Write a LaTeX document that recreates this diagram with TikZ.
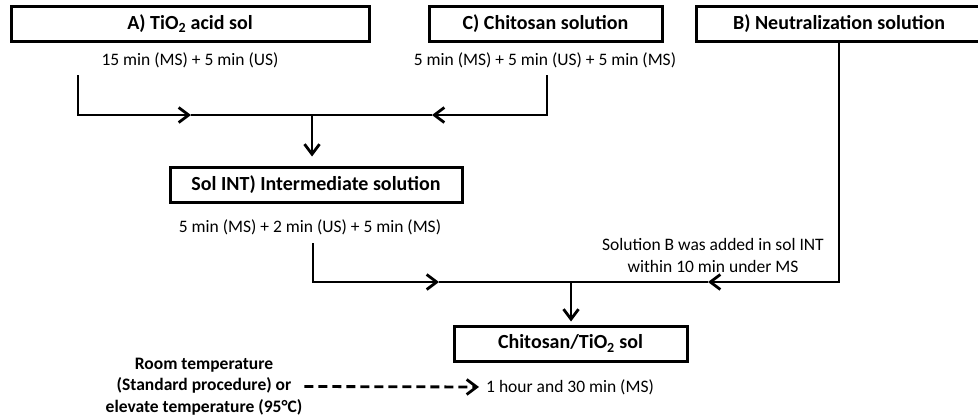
\documentclass[tikz,border=0pt]{standalone}
\usepackage{fontspec}
\setmainfont{Carlito}
\usetikzlibrary{arrows.meta}

\begin{document}
\begin{tikzpicture}[x=1pt,y=-1pt,
    stage/.style={draw,line width=3pt,minimum width=#1,minimum height=35pt,inner sep=0pt,
                  font=\fontsize{20}{24}\selectfont\bfseries},
    note/.style={inner sep=2pt,align=center,font=\fontsize{17.5}{21.5}\selectfont},
    link/.style={line width=2.8pt},
    tip/.style={-{Straight Barb[length=10pt,width=15pt]}},
    dashlink/.style={link,dash pattern=on 9pt off 5pt,tip}
  ]
    \useasboundingbox (0,0) rectangle (978,418);

    % starting solutions
    \node[stage=358pt] (solA) at (190,24) {A) TiO\textsubscript{2} acid sol};
    \node[stage=233pt] (solC) at (545.5,24) {C) Chitosan solution};
    \node[stage=286pt] (solB) at (839,24) {B) Neutralization solution};
    \node[note] (timeA) at (190,60) {15 min (MS) + 5 min (US)};
    \node[note] (timeC) at (545,60) {5 min (MS) + 5 min (US) + 5 min (MS)};

    % intermediate and final sol
    \node[stage=292pt] (solInt) at (316,184.5) {Sol INT) Intermediate solution};
    \node[note] (timeInt) at (310,227) {5 min (MS) + 2 min (US) + 5 min (MS)};
    \node[note] (addB) at (713,255.5) {Solution B was added in sol INT\\within 10 min under MS};
    \node[stage=233pt] (solFin) at (570.5,343.5) {Chitosan/TiO\textsubscript{2} sol};

    % ageing conditions
    \node[note,font=\fontsize{17.5}{21.5}\selectfont\bfseries] (temp) at (204,386.5)
      {Room temperature\\(Standard procedure) or\\elevate temperature (95°C)};
    \node[note,anchor=west] (ageing) at (484,387) {1 hour and 30 min (MS)};

    \coordinate (aTop) at (78,75);
    \coordinate (cTop) at (547,75);
    \coordinate (join1) at (312,115);
    \coordinate (aMid) at (191,115);
    \coordinate (cMid) at (432,115);
    \coordinate (intBot) at (313,243);
    \coordinate (join2) at (571,282);
    \coordinate (iMid) at (439,282);
    \coordinate (bMid) at (708,282);

    % A + C -> INT
    \draw[link,tip] (aTop) |- (aMid);
    \draw[link] (aMid) -- (join1);
    \draw[link,tip] (cTop) |- (cMid);
    \draw[link] (cMid) -- (join1);
    \draw[link,tip,shorten >=9pt] (join1) -- (join1 |- solInt.north);

    % INT + B -> final sol
    \draw[link,tip] (intBot) |- (iMid);
    \draw[link] (iMid) -- (join2);
    \draw[link,tip] (solB.south) |- (bMid);
    \draw[link] (bMid) -- (join2);
    \draw[link,tip,shorten >=3pt] (join2) -- (join2 |- solFin.north);

    \draw[dashlink,shorten >=5pt] (temp.east) -- (ageing.west);
  \end{tikzpicture}
\end{document}
